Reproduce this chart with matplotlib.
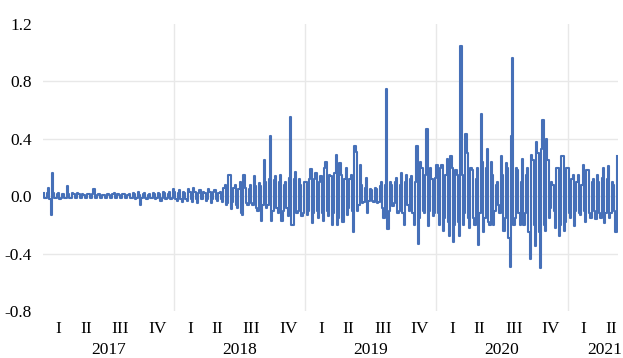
import matplotlib
matplotlib.use("Agg")
import matplotlib.pyplot as plt

plt.rcParams["font.family"] = ["Liberation Serif", "DejaVu Serif"]
plt.rcParams["axes.unicode_minus"] = False

# weekly highs / lows, one list per year

years = [2017, 2018, 2019, 2020, 2021]

hi17 = [0.02, 0.02, 0.06, 0.16, 0.02, 0.015, 0.02, 0.015, 0.015, 0.07, 0.015, 0.02, 0.015,
        0.02, 0.015, 0.015, 0.01, 0.015, 0.015, 0.015, 0.05, 0.01, 0.015, 0.01, 0.01, 0.015,
        0.01, 0.015, 0.02, 0.015, 0.01, 0.015, 0.015, 0.01, 0.015, 0.02, 0.015, 0.03, 0.01,
        0.015, 0.02, 0.01, 0.015, 0.02, 0.015, 0.02, 0.015, 0.03, 0.02, 0.015, 0.03, 0.05]
lo17 = [-0.015, -0.01, -0.02, -0.13, -0.01, -0.015, -0.02, -0.01, -0.015, -0.015, -0.01, -0.015, -0.01,
        -0.015, -0.01, -0.015, -0.01, -0.01, -0.015, -0.01, -0.015, -0.01, -0.01, -0.015, -0.01, -0.01,
        -0.015, -0.01, -0.01, -0.015, -0.01, -0.015, -0.01, -0.015, -0.01, -0.01, -0.02, -0.015, -0.06,
        -0.01, -0.015, -0.02, -0.015, -0.015, -0.02, -0.015, -0.03, -0.015, -0.02, -0.015, -0.02, -0.015]

hi18 = [0.03, 0.02, 0.04, 0.03, 0.02, 0.05, 0.03, 0.06, 0.03, 0.02, 0.04, 0.03, 0.02,
        0.05, 0.03, 0.03, 0.04, 0.02, 0.03, 0.06, 0.08, 0.15, 0.15, 0.06, 0.08, 0.05,
        0.10, 0.15, 0.06, 0.05, 0.08, 0.14, 0.07, 0.09, 0.07, 0.25, 0.10, 0.12, 0.42,
        0.11, 0.14, 0.10, 0.15, 0.08, 0.10, 0.13, 0.55, 0.12, 0.17, 0.12, 0.08, 0.10]
lo18 = [-0.02, -0.03, -0.02, -0.04, -0.02, -0.03, -0.02, -0.04, -0.02, -0.05, -0.02, -0.02, -0.03,
        -0.02, -0.05, -0.02, -0.02, -0.03, -0.02, -0.04, -0.06, -0.05, -0.09, -0.04, -0.06, -0.08,
        -0.12, -0.13, -0.05, -0.06, -0.05, -0.06, -0.08, -0.10, -0.17, -0.06, -0.08, -0.06, -0.17,
        -0.10, -0.08, -0.12, -0.17, -0.10, -0.08, -0.14, -0.20, -0.20, -0.12, -0.10, -0.14, -0.12]

hi19 = [0.10, 0.12, 0.19, 0.12, 0.16, 0.10, 0.14, 0.20, 0.24, 0.15, 0.14, 0.16, 0.29,
        0.23, 0.15, 0.12, 0.20, 0.12, 0.15, 0.35, 0.31, 0.22, 0.08, 0.06, 0.13, 0.05,
        0.04, 0.06, 0.05, 0.07, 0.10, 0.08, 0.75, 0.10, 0.08, 0.10, 0.13, 0.08, 0.16,
        0.10, 0.15, 0.12, 0.14, 0.10, 0.35, 0.24, 0.20, 0.15, 0.47, 0.20, 0.12, 0.13]
lo19 = [-0.13, -0.10, -0.19, -0.12, -0.10, -0.15, -0.12, -0.17, -0.10, -0.14, -0.20, -0.12, -0.20,
        -0.15, -0.18, -0.18, -0.13, -0.08, -0.10, -0.25, -0.10, -0.06, -0.05, -0.04, -0.12, -0.03,
        -0.03, -0.04, -0.05, -0.04, -0.08, -0.15, -0.23, -0.10, -0.07, -0.05, -0.12, -0.10, -0.12,
        -0.20, -0.06, -0.10, -0.12, -0.20, -0.33, -0.15, -0.10, -0.12, -0.21, -0.10, -0.14, -0.12]

hi20 = [0.22, 0.20, 0.22, 0.15, 0.26, 0.28, 0.20, 0.18, 0.15, 1.05, 0.15, 0.43, 0.30,
        0.20, 0.18, 0.12, 0.20, 0.57, 0.24, 0.20, 0.33, 0.24, 0.15, 0.08, 0.10, 0.28,
        0.15, 0.23, 0.20, 0.42, 0.96, 0.20, 0.18, 0.10, 0.26, 0.15, 0.20, 0.29, 0.25,
        0.38, 0.30, 0.33, 0.53, 0.40, 0.25, 0.10, 0.08, 0.20, 0.20, 0.28, 0.28, 0.20]
lo20 = [-0.12, -0.20, -0.24, -0.15, -0.18, -0.28, -0.32, -0.20, -0.18, -0.28, -0.20, -0.12, -0.15,
        -0.22, -0.15, -0.20, -0.34, -0.12, -0.25, -0.15, -0.18, -0.20, -0.20, -0.10, -0.06, -0.12,
        -0.24, -0.15, -0.29, -0.49, -0.20, -0.15, -0.12, -0.20, -0.20, -0.12, -0.25, -0.44, -0.20,
        -0.35, -0.25, -0.50, -0.20, -0.24, -0.15, -0.08, -0.10, -0.22, -0.28, -0.20, -0.24, -0.18]

hi21 = [0.20, 0.12, 0.15, 0.10, 0.15, 0.08, 0.22, 0.18, 0.18, 0.10,
        0.12, 0.15, 0.10, 0.13, 0.20, 0.12, 0.21, 0.10, 0.08, 0.28]
lo21 = [-0.12, -0.15, -0.21, -0.10, -0.12, -0.13, -0.10, -0.18, -0.12, -0.15,
        -0.10, -0.16, -0.12, -0.15, -0.19, -0.12, -0.15, -0.12, -0.10, -0.25]

highs = [hi17, hi18, hi19, hi20, hi21]
lows = [lo17, lo18, lo19, lo20, lo21]

quarter_labels = ["I", "II", "III", "IV"]
ytick_vals = [-0.8, -0.4, 0.0, 0.4, 0.8, 1.2]
ytick_labels = ["-0.8", "-0.4", "0.0", "0.4", "0.8", "1.2"]

# build series: two points per week, high/low order alternates

xs, ys = [], []
for yr, hi, lo in zip(years, highs, lows):
    for i, (h, l) in enumerate(zip(hi, lo)):
        pair = (h, l) if i % 2 == 0 else (l, h)
        xs += [yr + (i + 0.25) / 52, yr + (i + 0.75) / 52]
        ys += list(pair)

fig = plt.figure(figsize=(6.23, 3.58), dpi=100)
ax = fig.add_axes([43 / 623, 1 - 311 / 358, 575 / 623, 287 / 358])

grid_c = "#e8e8e8"
for v in [-0.4, 0.0, 0.4, 0.8]:
    ax.axhline(v, color=grid_c, lw=1.0, zorder=0)
for yr in years[1:]:
    ax.axvline(yr, color=grid_c, lw=1.0, zorder=0)

ax.plot(xs, ys, color="#4670B8", lw=1.5, drawstyle="steps-mid", zorder=2)

ax.set_xlim(2017, 2021 + len(hi21) / 52)
ax.set_ylim(-0.8, 1.2)
ax.set_yticks(ytick_vals)
ax.set_yticklabels(ytick_labels)
ax.set_xticks([])
ax.tick_params(axis="y", length=0, pad=8, labelsize=12.5)
for s in ax.spines.values():
    s.set_visible(False)

# quarter and year labels under the axis
q_off = [0.12, 0.33, 0.59, 0.87]
trans = ax.get_xaxis_transform()
for yr in years:
    n_q = 4 if yr < 2021 else 2
    for q in range(n_q):
        ax.text(yr + q_off[q], -0.063, quarter_labels[q], transform=trans,
                ha="center", va="center", fontsize=12.5)
    ypos = yr + 0.5 if yr < 2021 else yr + 0.28
    ax.text(ypos, -0.136, str(yr), transform=trans,
            ha="center", va="center", fontsize=12.5)

plt.savefig("out.png", dpi=100)
